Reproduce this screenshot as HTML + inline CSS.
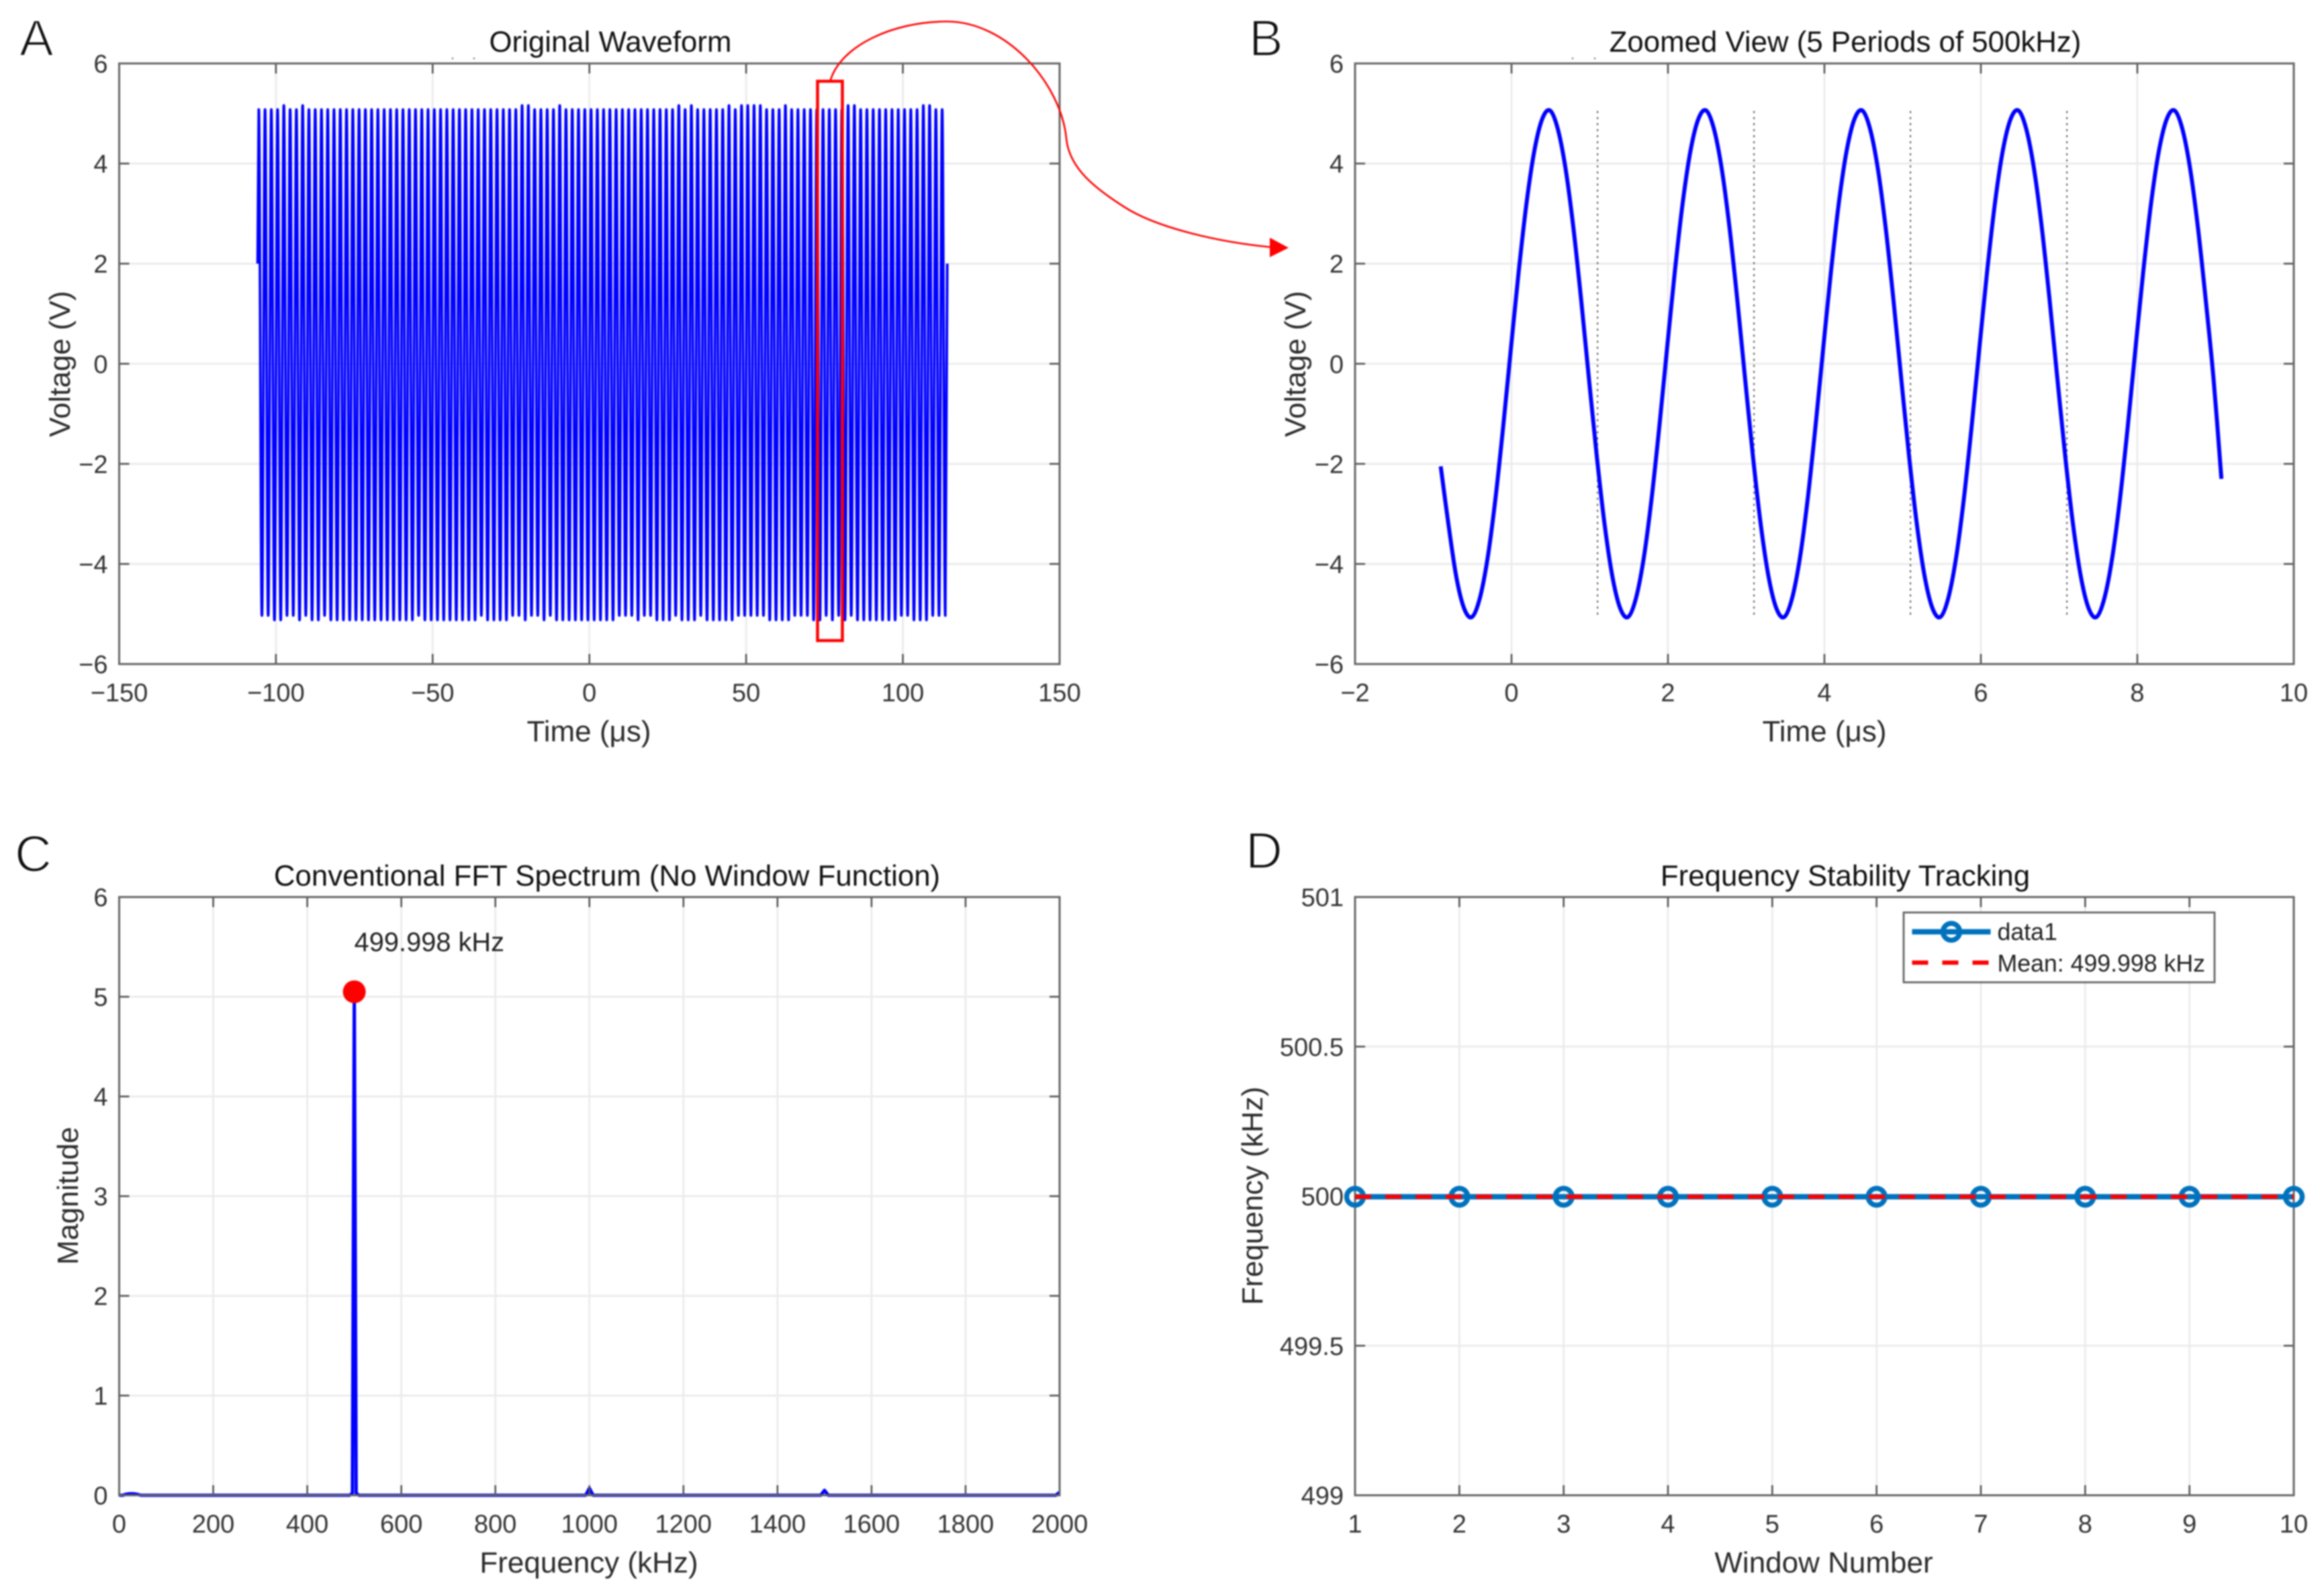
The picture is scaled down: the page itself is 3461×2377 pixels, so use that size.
<!DOCTYPE html>
<html lang="en">
<head>
<meta charset="utf-8">
<title>Waveform analysis figure</title>
<style>
  html,body{margin:0;padding:0;background:#fff;}
  body{width:3461px;height:2377px;overflow:hidden;}
  svg{display:block;filter:blur(1px);font-family:"Liberation Sans",Arial,sans-serif;}
  .title{font-size:43.8px;fill:#111;text-anchor:middle;}
  .label{font-size:44px;fill:#2b2b2b;text-anchor:middle;}
  .tick{font-size:38px;fill:#333;}
  .letter{font-size:76px;fill:#111;stroke:#fff;stroke-width:2px;}
</style>
</head>
<body>
<svg id="figure" xmlns="http://www.w3.org/2000/svg" width="3461" height="2377" viewBox="0 0 3461 2377">
  <rect x="0" y="0" width="3461" height="2377" fill="#fff"/>
  <g id="panelA"></g>
  <g id="panelB"></g>
  <g id="panelC"></g>
  <g id="panelD"></g>

  <text class="letter" x="29" y="83">A</text>
  <text class="letter" x="1860" y="83">B</text>
  <text class="letter" x="22" y="1298">C</text>
  <text class="letter" x="1855" y="1293">D</text>

  <text class="title" x="909" y="77">Original Waveform</text>
  <text class="title" x="2748" y="77">Zoomed View (5 Periods of 500kHz)</text>
  <text class="title" x="904" y="1319">Conventional FFT Spectrum (No Window Function)</text>
  <text class="title" x="2748" y="1319">Frequency Stability Tracking</text>

  <text class="label" x="877" y="1104">Time (μs)</text>
  <text class="label" x="2717" y="1104">Time (μs)</text>
  <text class="label" x="877" y="2342">Frequency (kHz)</text>
  <text class="label" x="2716" y="2342">Window Number</text>
  <text class="label" transform="translate(104,542) rotate(-90)">Voltage (V)</text>
  <text class="label" transform="translate(1944,542) rotate(-90)">Voltage (V)</text>
  <text class="label" transform="translate(116,1781) rotate(-90)">Magnitude</text>
  <text class="label" transform="translate(1880,1781) rotate(-90)">Frequency (kHz)</text>

  <circle cx="674" cy="87" r="1.5" fill="#999"/>
  <circle cx="706" cy="87" r="1.5" fill="#999"/>
  <circle cx="2342" cy="87" r="1.5" fill="#999"/>
  <circle cx="2375" cy="87" r="1.5" fill="#999"/>
</svg>

<script>
/* ---------- Panel A data: peak voltages of each cycle ---------- */
const waveStartTime = -105.84;
const waveStartVolt = 2.0;
const waveFirstPeakTime = -105.47;
const wavePeriod = 2.0;
const waveEndVolt = 2.0;
const waveTops = [
  5.08,5.08,5.08,5.08,5.16,5.08,5.08,5.16,5.08,5.08,
  5.08,5.08,5.08,5.08,5.08,5.08,5.08,5.08,5.08,5.08,
  5.08,5.08,5.08,5.08,5.08,5.08,5.08,5.08,5.08,5.08,
  5.08,5.08,5.08,5.08,5.08,5.08,5.08,5.08,5.08,5.08,
  5.08,5.08,5.16,5.16,5.08,5.08,5.08,5.08,5.16,5.08,
  5.08,5.08,5.08,5.08,5.08,5.08,5.08,5.08,5.08,5.08,
  5.08,5.08,5.08,5.08,5.08,5.08,5.08,5.16,5.08,5.16,
  5.08,5.08,5.08,5.08,5.08,5.16,5.08,5.16,5.16,5.16,
  5.16,5.08,5.08,5.08,5.16,5.08,5.08,5.08,5.08,5.08,
  5.08,5.08,5.08,5.08,5.16,5.16,5.08,5.08,5.08,5.08,
  5.08,5.08,5.08,5.08,5.08,5.08,5.16,5.16,5.08,5.08
];
const waveBottoms = [
  -5.03,-5.03,-5.12,-5.12,-5.03,-5.03,-5.12,-5.03,-5.12,-5.12,
  -5.03,-5.12,-5.12,-5.12,-5.12,-5.12,-5.12,-5.12,-5.12,-5.12,
  -5.12,-5.12,-5.12,-5.12,-5.12,-5.03,-5.12,-5.12,-5.12,-5.12,
  -5.12,-5.12,-5.12,-5.12,-5.12,-5.03,-5.12,-5.12,-5.12,-5.12,
  -5.03,-5.03,-5.12,-5.03,-5.03,-5.12,-5.03,-5.12,-5.12,-5.12,
  -5.12,-5.12,-5.12,-5.12,-5.12,-5.12,-5.12,-5.03,-5.03,-5.03,
  -5.12,-5.03,-5.03,-5.12,-5.12,-5.12,-5.03,-5.12,-5.12,-5.12,
  -5.03,-5.12,-5.12,-5.12,-5.12,-5.12,-5.03,-5.03,-5.03,-5.03,
  -5.03,-5.12,-5.12,-5.12,-5.12,-5.03,-5.03,-5.03,-5.12,-5.12,
  -5.03,-5.12,-5.03,-5.12,-5.03,-5.12,-5.12,-5.12,-5.12,-5.12,
  -5.12,-5.12,-5.03,-5.03,-5.12,-5.12,-5.12,-5.03,-5.03,-5.03
];
const panelAXTicks = [-150,-100,-50,0,50,100,150];
const voltageTicks = [-6,-4,-2,0,2,4,6];

/* ---------- Panel B data ---------- */
const zoomStart = -0.905;
const zoomStep = 0.0998;
const zoomVolts = [
  -2.05,-3.22,-4.26,-4.89,-5.06,-4.69,-3.89,-2.71,-1.26,0.32,
  1.86,3.22,4.26,4.89,5.06,4.69,3.89,2.71,1.26,-0.32,
  -1.86,-3.22,-4.26,-4.89,-5.06,-4.69,-3.89,-2.71,-1.26,0.32,
  1.86,3.22,4.26,4.89,5.06,4.69,3.89,2.71,1.26,-0.32,
  -1.86,-3.22,-4.26,-4.89,-5.06,-4.69,-3.89,-2.71,-1.26,0.32,
  1.86,3.22,4.26,4.89,5.06,4.69,3.89,2.71,1.26,-0.32,
  -1.86,-3.22,-4.26,-4.89,-5.06,-4.69,-3.89,-2.71,-1.26,0.32,
  1.86,3.22,4.26,4.89,5.06,4.69,3.89,2.71,1.26,-0.32,
  -1.86,-3.22,-4.26,-4.89,-5.06,-4.69,-3.89,-2.71,-1.26,0.32,
  1.86,3.22,4.26,4.89,5.06,4.69,3.89,2.71,1.26,-0.32,
  -2.3
];
const dividerTimes = [1.1,3.1,5.1,7.1];
const dividerTop = 5.05;
const dividerBottom = -5.05;
const panelBXTicks = [-2,0,2,4,6,8,10];

/* ---------- Panel C data ---------- */
const spectrumFreq = [0,8,14,22,30,38,46,200,400,490,496,499.998,504,510,800,992,1000,1008,1200,1492,1500,1508,1800,1992,2000];
const spectrumMag  = [0,0,0.01,0.015,0.015,0.01,0,0,0,0,0.02,5.05,0.02,0,0,0,0.07,0,0,0,0.05,0,0,0,0.03];
const peakFreq = 499.998;
const peakMag = 5.05;
const peakLabel = "499.998 kHz";
const spectrumXTicks = [0,200,400,600,800,1000,1200,1400,1600,1800,2000];
const magnitudeTicks = [0,1,2,3,4,5,6];

/* ---------- Panel D data ---------- */
const windowNumbers = [1,2,3,4,5,6,7,8,9,10];
const windowFreqs = [499.998,499.998,499.998,499.998,499.998,499.998,499.998,499.998,499.998,499.998];
const meanFreq = 499.998;
const freqTicks = [499,499.5,500,500.5,501];

/* ---------- Helpers ---------- */
const SVGNS = "http://www.w3.org/2000/svg";
function mk(parent, tag, attrs, text) {
  const el = document.createElementNS(SVGNS, tag);
  for (const k in attrs) el.setAttribute(k, attrs[k]);
  if (text !== undefined) el.textContent = text;
  parent.appendChild(el);
  return el;
}
function scale(d0, d1, r0, r1) { return v => r0 + (v - d0) * (r1 - r0) / (d1 - d0); }
function fmt(v) { return String(v).replace("-", "\u2212"); }
/* smooth path through already-scaled points */
function smoothPath(p) {
  let d = "M" + p[0][0] + " " + p[0][1];
  for (let i = 0; i < p.length - 1; i++) {
    const a = p[Math.max(i - 1, 0)], b = p[i], c = p[i + 1], e = p[Math.min(i + 2, p.length - 1)];
    d += " C" + (b[0] + (c[0] - a[0]) / 6) + " " + (b[1] + (c[1] - a[1]) / 6) + " " +
         (c[0] - (e[0] - b[0]) / 6) + " " + (c[1] - (e[1] - b[1]) / 6) + " " + c[0] + " " + c[1];
  }
  return d;
}

const BOX = "#666666";
const TICK = "#555555";
const GRID = "#ebebeb";
const BLUE = "#0000ff";
const MATBLUE = "#0072bd";

function drawFrame(g, L, R, T, B, xTicks, yTicks, x, y) {
  xTicks.forEach(v => {
    const gl = mk(g, "line", {x1:x(v), x2:x(v), y1:T, y2:B, stroke:GRID, "stroke-width":2.8});
    
    
  });
  yTicks.forEach(v => {
    const gl = mk(g, "line", {x1:L, x2:R, y1:y(v), y2:y(v), stroke:GRID, "stroke-width":2.8});
    
    
  });
}
function drawAxes(g, L, R, T, B, xTicks, yTicks, x, y) {
  const tl = 15;
  xTicks.forEach(v => {
    const a = mk(g, "line", {x1:x(v), x2:x(v), y1:B, y2:B - tl, stroke:TICK, "stroke-width":2.6});
    
    
    const b = mk(g, "line", {x1:x(v), x2:x(v), y1:T, y2:T + tl, stroke:TICK, "stroke-width":2.6});
    
    
    const t = mk(g, "text", {class:"tick", x:x(v), y:B + 55.5, "text-anchor":"middle"}, fmt(v));
    
    
  });
  yTicks.forEach(v => {
    const a = mk(g, "line", {x1:L, x2:L + tl, y1:y(v), y2:y(v), stroke:TICK, "stroke-width":2.6});
    
    
    const b = mk(g, "line", {x1:R, x2:R - tl, y1:y(v), y2:y(v), stroke:TICK, "stroke-width":2.6});
    
    
    const t = mk(g, "text", {class:"tick", x:L - 17, y:y(v) + 13.5, "text-anchor":"end"}, fmt(v));
    
    
  });
  const box = mk(g, "rect", {x:L, y:T, width:R - L, height:B - T, fill:"none", stroke:BOX, "stroke-width":3});
  
  
}

/* ---------- Panel A ---------- */
(function () {
  const g = document.getElementById("panelA");
  const L = 177.5, R = 1578, T = 94.5, B = 989;
  const x = scale(-150, 150, L, R), y = scale(-6, 6, B, T);
  drawFrame(g, L, R, T, B, panelAXTicks, voltageTicks, x, y);
  let d = "M" + x(waveStartTime) + " " + y(waveStartVolt) + " L" + x(waveFirstPeakTime) + " " + y(waveTops[0]);
  const half = wavePeriod / 2, k = 0.3642 * half;
  let prevT = waveFirstPeakTime, prevV = waveTops[0];
  function seg(t, v) {
    d += " C" + x(prevT + k) + " " + y(prevV) + " " + x(t - k) + " " + y(v) + " " + x(t) + " " + y(v);
    prevT = t; prevV = v;
  }
  waveTops.forEach((top, i) => {
    const peakT = waveFirstPeakTime + i * wavePeriod;
    if (i > 0) seg(peakT, top);
    seg(peakT + half, waveBottoms[i]);
  });
  d += " L" + x(prevT + 0.63) + " " + y(waveEndVolt);
  const line = mk(g, "path", {d:d, fill:"none", stroke:BLUE, "stroke-width":3.9, "stroke-linejoin":"round"});
  
  
  drawAxes(g, L, R, T, B, panelAXTicks, voltageTicks, x, y);

  const zoomBox = mk(g, "rect", {x:1217.5, y:121, width:37, height:833, fill:"none", stroke:"#ff0000", "stroke-width":4.5});
  
  
  const curve = mk(g, "path", {d:"M1236.6 120 C1252 68 1330 32 1410 32 C1500 32 1580 125 1588 206 C1592 250 1630 280 1674 308 C1720 338 1810 360 1892 368", fill:"none", stroke:"#ff0000", "stroke-width":2.6});
  
  
  const head = mk(g, "polygon", {points:"1891,354 1919,369 1891,383", fill:"#ff0000"});
  
  
})();

/* ---------- Panel B ---------- */
(function () {
  const g = document.getElementById("panelB");
  const L = 2018, R = 3416, T = 94.5, B = 989;
  const x = scale(-2, 10, L, R), y = scale(-6, 6, B, T);
  drawFrame(g, L, R, T, B, panelBXTicks, voltageTicks, x, y);
  dividerTimes.forEach(t => {
    const dl = mk(g, "line", {x1:x(t), x2:x(t), y1:y(dividerTop), y2:y(dividerBottom), stroke:"#555", "stroke-width":2, "stroke-dasharray":"3 6"});
    
    
  });
  const pts = zoomVolts.map((v, i) => [x(zoomStart + i * zoomStep), y(v)]);
  const line = mk(g, "path", {d:smoothPath(pts), fill:"none", stroke:BLUE, "stroke-width":6, "stroke-linejoin":"round"});
  
  
  drawAxes(g, L, R, T, B, panelBXTicks, voltageTicks, x, y);
})();

/* ---------- Panel C ---------- */
(function () {
  const g = document.getElementById("panelC");
  const L = 177.5, R = 1578, T = 1336, B = 2227;
  const x = scale(0, 2000, L, R), y = scale(0, 6, B, T);
  drawFrame(g, L, R, T, B, spectrumXTicks, magnitudeTicks, x, y);
  const pts = spectrumFreq.map((f, i) => x(f) + "," + y(spectrumMag[i])).join(" ");
  const line = mk(g, "polyline", {points:pts, fill:"none", stroke:BLUE, "stroke-width":5, "stroke-linejoin":"round"});
  
  
  drawAxes(g, L, R, T, B, spectrumXTicks, magnitudeTicks, x, y);
  const marker = mk(g, "circle", {cx:x(peakFreq), cy:y(peakMag), r:17, fill:"#ff0000"});
  
  
  const lab = mk(g, "text", {x:x(peakFreq), y:1416.5, "font-size":39.8, fill:"#222"}, peakLabel);
  
  
})();

/* ---------- Panel D ---------- */
(function () {
  const g = document.getElementById("panelD");
  const L = 2018, R = 3416, T = 1336, B = 2227;
  const x = scale(1, 10, L, R), y = scale(499, 501, B, T);
  drawFrame(g, L, R, T, B, windowNumbers, freqTicks, x, y);
  drawAxes(g, L, R, T, B, windowNumbers, freqTicks, x, y);
  const pts = windowNumbers.map((w, i) => x(w) + "," + y(windowFreqs[i])).join(" ");
  const line = mk(g, "polyline", {points:pts, fill:"none", stroke:MATBLUE, "stroke-width":8});
  
  
  windowNumbers.forEach((w, i) => {
    const c = mk(g, "circle", {cx:x(w), cy:y(windowFreqs[i]), r:12.5, fill:"none", stroke:MATBLUE, "stroke-width":7.5});
    
    
  });
  const mean = mk(g, "line", {x1:L, x2:R, y1:y(meanFreq), y2:y(meanFreq), stroke:"#ff0000", "stroke-width":6.3, "stroke-dasharray":"24 21"});
  
  

  const leg = mk(g, "g", {});
  
  
  const bx = mk(leg, "rect", {x:2835, y:1359, width:463, height:104, fill:"#fff", stroke:"#666", "stroke-width":2.8});
  
  
  const s1 = mk(leg, "line", {x1:2847.5, x2:2964.5, y1:1387.7, y2:1387.7, stroke:MATBLUE, "stroke-width":8});
  
  
  const s1m = mk(leg, "circle", {cx:2906, cy:1387.7, r:12.5, fill:"none", stroke:MATBLUE, "stroke-width":7.5});
  
  
  const t1 = mk(leg, "text", {x:2974.5, y:1400, "font-size":35.7, fill:"#222"}, "data1");
  
  
  const s2 = mk(leg, "line", {x1:2847.5, x2:2964.5, y1:1433.7, y2:1433.7, stroke:"#ff0000", "stroke-width":6.3, "stroke-dasharray":"24 21"});
  
  
  const t2 = mk(leg, "text", {x:2974.5, y:1447, "font-size":35.7, fill:"#222"}, "Mean: " + meanFreq.toFixed(3) + " kHz");
  
  
})();
</script>
</body>
</html>
